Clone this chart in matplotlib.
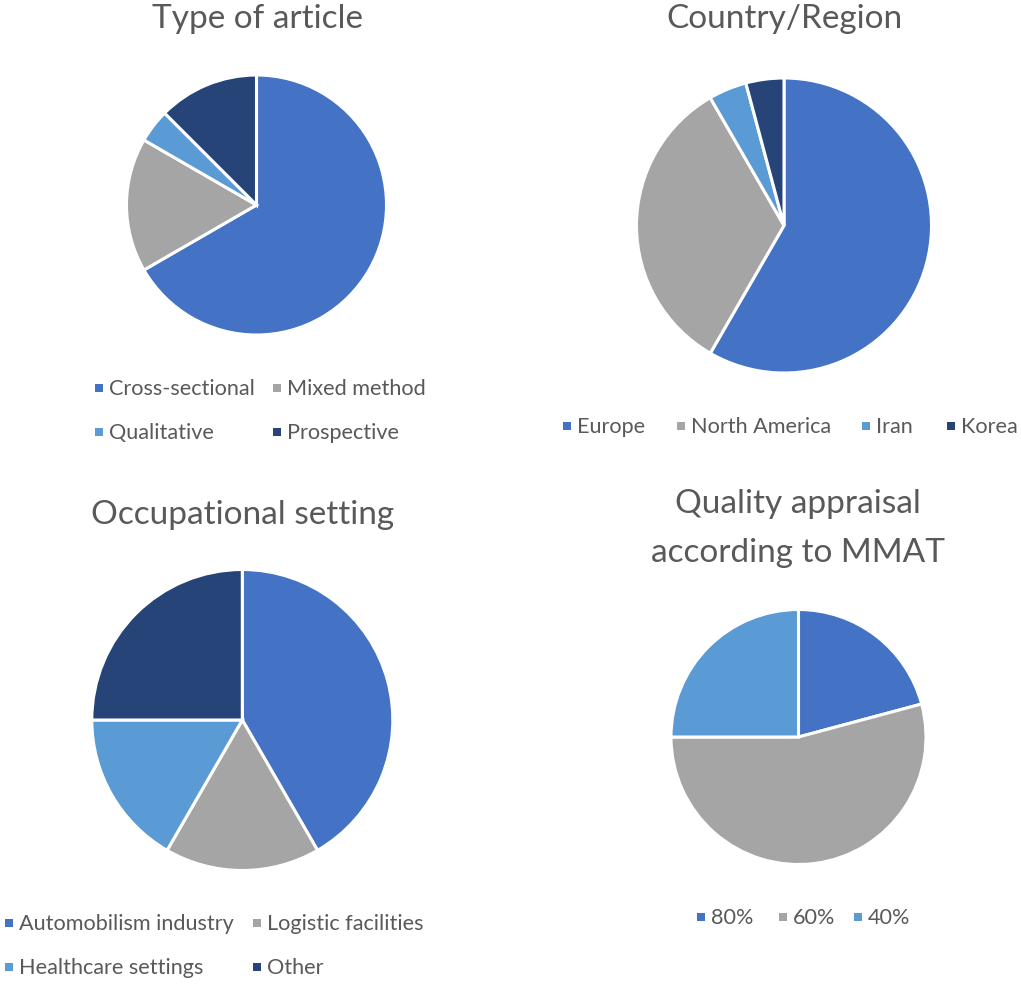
import matplotlib
matplotlib.use("Agg")
import matplotlib.pyplot as plt
from matplotlib.patches import Rectangle

# ---------------- data ----------------
type_labels = ["Cross-sectional", "Mixed method", "Qualitative", "Prospective"]
type_values = [16, 4, 1, 3]

country_labels = ["Europe", "North America", "Iran", "Korea"]
country_values = [14, 8, 1, 1]

occup_labels = ["Automobilism industry", "Logistic facilities", "Healthcare settings", "Other"]
occup_values = [10, 4, 4, 6]

quality_labels = ["80%", "60%", "40%"]
quality_values = [5, 13, 6]

titles = ["Type of article", "Country/Region", "Occupational setting",
          "Quality appraisal\naccording to MMAT"]

colors4 = ["#4472C4", "#A5A5A5", "#5B9BD5", "#264478"]
colors3 = ["#4472C4", "#A5A5A5", "#5B9BD5"]

W, H = 1021, 984
TXT = "#595959"
FONT = "Lato"

fig = plt.figure(figsize=(W / 100, H / 100), dpi=100)
ax = fig.add_axes([0, 0, 1, 1])


def Y(y):
    return H - y


def draw_pie(values, colors, cx, cy, r):
    wedges, _ = ax.pie(values, colors=colors, startangle=90, counterclock=False,
                       center=(cx, Y(cy)), radius=r, frame=True,
                       wedgeprops=dict(edgecolor="white", linewidth=2.2))
    return wedges


def draw_legend(wedges, labels, xs, baselines, ncol, fs=15.6):
    for i, (w, lab) in enumerate(zip(wedges, labels)):
        col = i % ncol
        row = i // ncol
        x = xs[col]
        b = baselines[row]
        ax.add_patch(Rectangle((x, Y(b - 3.5)), 8, 8, facecolor=w.get_facecolor(),
                               edgecolor="none"))
        ax.text(x + 14, Y(b), lab, fontsize=fs, color=TXT, family=FONT,
                ha="left", va="baseline")


w1 = draw_pie(type_values, colors4, 256.5, 205, 130)
w2 = draw_pie(country_values, colors4, 784, 225.5, 147.5)
w3 = draw_pie(occup_values, colors4, 242.3, 720, 150.5)
w4 = draw_pie(quality_values, colors3, 798.5, 737, 127.5)

tfs = 24
ax.text(257, Y(28.5), titles[0], fontsize=tfs, color=TXT, family=FONT, ha="center", va="baseline")
ax.text(784, Y(28.5), titles[1], fontsize=tfs, color=TXT, family=FONT, ha="center", va="baseline")
ax.text(242.5, Y(524), titles[2], fontsize=tfs, color=TXT, family=FONT, ha="center", va="baseline")
l1, l2 = titles[3].split("\n")
ax.text(798, Y(513), l1, fontsize=tfs, color=TXT, family=FONT, ha="center", va="baseline")
ax.text(798, Y(561.5), l2, fontsize=tfs, color=TXT, family=FONT, ha="center", va="baseline")

draw_legend(w1, type_labels, [95, 273], [395, 439], 2)
draw_legend(w2, country_labels, [563.3, 676.7, 861.7, 946.7], [433], 4)
draw_legend(w3, occup_labels, [5, 253.3], [930, 974], 2)
draw_legend(w4, quality_labels, [697.3, 779.3, 854], [924], 3)

ax.set_xlim(0, W)
ax.set_ylim(0, H)
ax.set_aspect("auto")
ax.axis("off")

fig.savefig("out.png", dpi=100, facecolor="white")
